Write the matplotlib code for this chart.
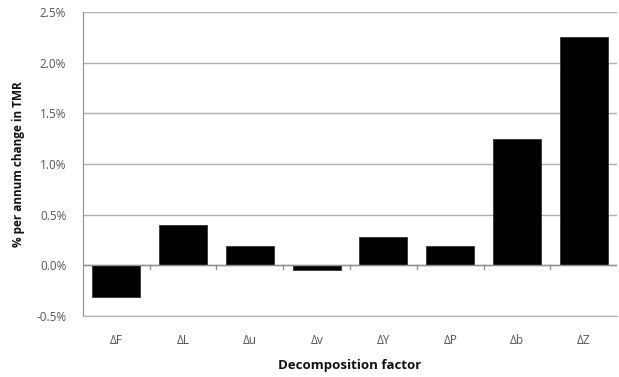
import matplotlib
matplotlib.use("Agg")
import matplotlib.pyplot as plt
from matplotlib.ticker import FuncFormatter
import numpy as np

categories = ["ΔF", "ΔL", "Δu", "Δv", "ΔY", "ΔP", "Δb", "ΔZ"]
values = [-0.31, 0.40, 0.19, -0.05, 0.28, 0.19, 1.25, 2.25]
yticks = [-0.5, 0.0, 0.5, 1.0, 1.5, 2.0, 2.5]

plt.rcParams['font.family'] = ['Open Sans', 'DejaVu Sans']

fig = plt.figure(figsize=(6.19, 3.77), dpi=100)
ax = fig.add_axes([0.134, 0.162, 0.863, 0.806])

x = np.arange(len(categories))
ax.bar(x, values, width=0.72, color='black', edgecolor='#333333', linewidth=0.6, zorder=3)

ax.set_xlim(-0.5, len(categories) - 0.5)
ax.set_ylim(-0.5, 2.5)
ax.set_yticks(yticks)
ax.yaxis.set_major_formatter(FuncFormatter(lambda v, p: f"{v:.1f}%"))
ax.grid(axis='y', color='#b0b0b0', linewidth=1.0, zorder=0)
ax.tick_params(axis='y', length=0, labelsize=8.5, labelcolor='#555555', pad=12)

# zero line with tick marks at category boundaries
ax.axhline(0, color='#909090', linewidth=1.0, zorder=4)
for b in np.arange(0.5, len(categories) - 0.5, 1.0):
    ax.plot([b, b], [0, -0.035], color='#909090', linewidth=1.0, zorder=4, clip_on=False)

ax.set_xticks(x)
ax.set_xticklabels(categories)
ax.tick_params(axis='x', length=0, labelsize=8.5, labelcolor='#555555', pad=13)

for s in ['top', 'right']:
    ax.spines[s].set_visible(False)
ax.spines['left'].set_color('#909090')
ax.spines['bottom'].set_color('#b0b0b0')

ax.set_ylabel("% per annum change in TMR", fontsize=8.5, fontweight='bold', color='#111111', labelpad=8)
ax.set_xlabel("Decomposition factor", fontsize=9.5, fontweight='bold', color='#111111', labelpad=9)

fig.savefig("out.png", dpi=100)
